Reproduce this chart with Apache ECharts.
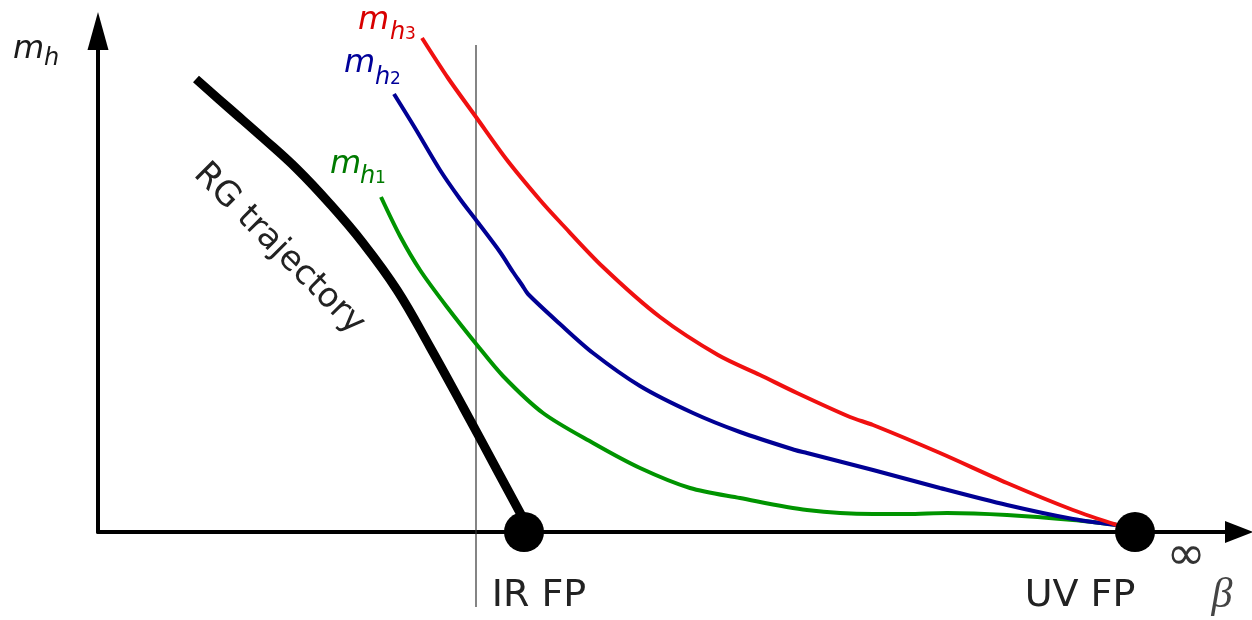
<!DOCTYPE html>
<html>
<head>
<meta charset="utf-8">
<script src="https://cdn.jsdelivr.net/npm/echarts@6/dist/echarts.min.js"></script>
<style>html,body{margin:0;padding:0;background:#fff}#c{width:1252px;height:620px}</style>
</head>
<body>
<div id="c"></div>
<script>
// Chart units: x = beta (schematic), y = m_h (schematic)
var rgTrajectory = [[98,453],[132,423],[165,394],[199,363],[232,328],[265,289],[299,242],[332,185],[365,125],[399,62],[426,12]];
var mh3 = [[324,494],[350,454],[378,415],[409,372],[442,332],[462,310],[505,265],[562,215],[620,177],[662,157],[699,139],[752,115],[775,107],[842,79],[909,49],[975,22],[1019,7]];
var mh2 = [[296,438],[317,404],[342,362],[362,333],[378,312],[402,280],[415,260],[424,247],[430,238],[462,208],[495,179],[542,146],[595,119],[642,100],[697,82],[709,79],[775,62],[842,44],[909,27],[975,13],[1019,7]];
var mh1 = [[283,335],[302,296],[322,262],[349,225],[379,187],[405,156],[445,119],[495,89],[542,64],[592,44],[642,34],[709,22],[775,18],[809,18],[849,19],[909,17],[975,12],[1019,7]];
var irLine = [[378,487],[378,-75]];
var fixedPoints = [{name:'IR FP', value:[426,0]},{name:'UV FP', value:[1037,0]}];
var fpLabelShift = [15, -55];

var chart = echarts.init(document.getElementById('c'), null, {renderer:'canvas'});
var FONT = '"DejaVu Sans", sans-serif';
function txt(t, x, y, size, color, opts) {
  opts = opts || {};
  return {
    type:'text', x:x, y:y, rotation: opts.rotation || 0, z: 10,
    style:{
      text:t, fill:color,
      font: (opts.italic ? 'italic ' : '') + size + 'px ' + (opts.family || FONT),
      textAlign: opts.align || 'left', align: opts.align || 'left',
      textVerticalAlign:'middle', verticalAlign:'middle'
    }
  };
}
var RED = '#f01010', BLUE = '#000094', GREEN = '#009400';
var RED_T = '#d80000', BLUE_T = '#000099', GREEN_T = '#007a00';
var option = {
  animation:false,
  backgroundColor:'#fff',
  grid:{left:98, right:13, top:31, bottom:88},
  xAxis:{type:'value', min:0, max:1141, axisLine:{show:true, onZero:false, symbol:['none','triangle'], symbolSize:[22,28], lineStyle:{color:'#000', width:4}}, axisTick:{show:false}, axisLabel:{show:false}, splitLine:{show:false}},
  yAxis:{type:'value', min:0, max:501, axisLine:{show:true, onZero:false, symbol:['none','triangle'], symbolSize:[21,38], lineStyle:{color:'#000', width:4}}, axisTick:{show:false}, axisLabel:{show:false}, splitLine:{show:false}},
  series:[
    {type:'line', data:irLine, clip:false, symbol:'none', silent:true, z:1, lineStyle:{color:'#333', width:1.2}},
    {type:'line', data:mh1, smooth:0.3, symbol:'none', z:2, lineStyle:{color:GREEN, width:4}},
    {type:'line', data:mh2, smooth:0.3, symbol:'none', z:2, lineStyle:{color:BLUE, width:4}},
    {type:'line', data:mh3, smooth:0.3, symbol:'none', z:2, lineStyle:{color:RED, width:4}},
    {type:'line', data:rgTrajectory, smooth:0.4, symbol:'none', z:3, lineStyle:{color:'#000', width:9}},
    {type:'scatter', clip:false, symbol:'circle', symbolSize:40, z:4, itemStyle:{color:'#000', opacity:1},
     data: fixedPoints.map(function(p, i){ return {name:p.name, value:p.value, label:{offset:[fpLabelShift[i],0]}}; }),
     label:{show:true, formatter:function(p){return p.name;}, position:'bottom', distance:25, color:'#222', opacity:1, fontSize:38, fontFamily:'DejaVu Sans'}}
  ],
  graphic:[
    txt('m', 13, 50, 32, '#1a1a1a', {italic:true}),
    txt('h', 44, 59, 24, '#1a1a1a', {italic:true}),
    txt('m', 358, 21, 32, RED_T, {italic:true}),
    txt('h', 390, 33, 24, RED_T, {italic:true}),
    txt('3', 405, 35, 17, RED_T),
    txt('m', 344, 64, 32, BLUE_T, {italic:true}),
    txt('h', 375, 78, 24, BLUE_T, {italic:true}),
    txt('2', 390, 80, 17, BLUE_T),
    txt('m', 330, 165, 32, GREEN_T, {italic:true}),
    txt('h', 360, 177, 24, GREEN_T, {italic:true}),
    txt('1', 375, 179, 17, GREEN_T),
    txt('RG trajectory', 279, 249, 34, '#222', {align:'center', rotation:-Math.PI/4}),
    txt('\u221E', 1186, 557, 47, '#333', {align:'center'}),
    txt('\u03B2', 1222, 596, 42, '#444', {align:'center', italic:true, family:'"Liberation Serif", serif'})
  ]
};
chart.setOption(option);
</script>
</body>
</html>
